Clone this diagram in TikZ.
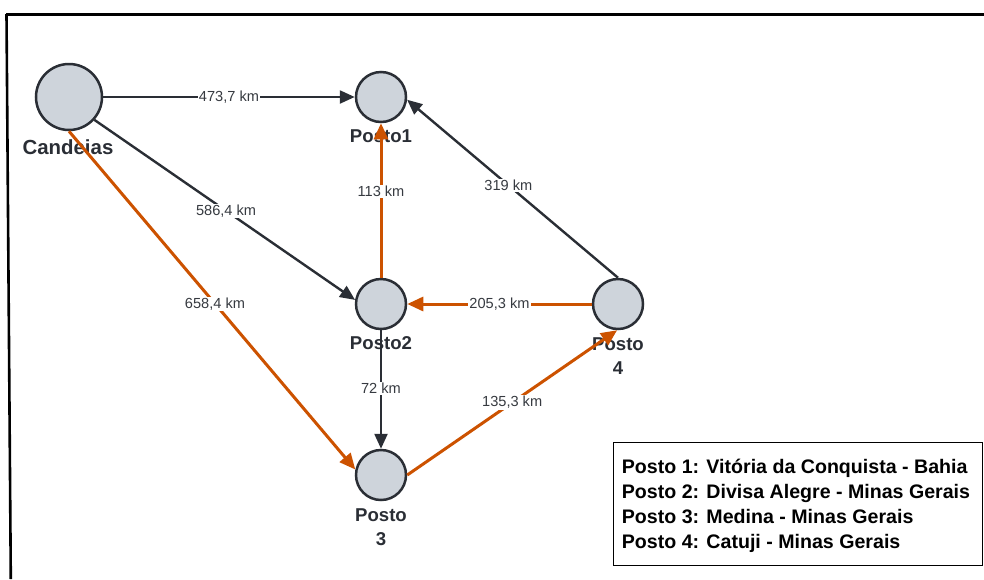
\documentclass[tikz,border=0pt]{standalone}
\usepackage{fontspec}
\setmainfont{Liberation Sans}
\usetikzlibrary{arrows.meta}
\definecolor{ink}{HTML}{2A2E35}
\definecolor{rust}{HTML}{CC5200}
\definecolor{stopfill}{HTML}{CED4DB}
\definecolor{lbl}{HTML}{363A40}

\begin{document}
\begin{tikzpicture}[x=1pt,y=-1pt,
  stopnode/.style={circle, draw=ink, line width=2.5pt, fill=stopfill, minimum size=#1, inner sep=0pt},
  road/.style={draw=ink, line width=2.4pt, -{Triangle[length=15pt,width=13pt]}},
  best/.style={draw=rust, line width=3pt, -{Triangle[length=16pt,width=14pt]}},
  dist/.style={fill=white, text=lbl, font=\fontsize{14.6}{16}\selectfont, inner sep=1pt, pos=#1},
  dist/.default=0.5,
  stopname/.style={text=ink, font=\bfseries\fontsize{18.6}{24}\selectfont, align=center, inner sep=0pt},
]
\useasboundingbox (0,0) rectangle (984,579);

% outer frame (top and left sides)
\draw[line width=3pt] (6,14.5) -- (984,14.5);
\draw[line width=2.6pt] (6.5,14) -- (10.8,579);

% stops
\node[stopnode=66] (cand) at (69,97) {};
\node[stopnode=50] (p1) at (381,97) {};
\node[stopnode=50] (p2) at (381,304) {};
\node[stopnode=50] (p3) at (381,475) {};
\node[stopnode=50] (p4) at (618,304) {};

% stop names
\node[stopname, font=\bfseries\fontsize{20.4}{24}\selectfont] (candname) at (68,147) {Candeias};
\node[stopname] (p1name) at (381,136) {Posto1};
\node[stopname] (p2name) at (381,343) {Posto2};
\node[stopname] (p3name) at (381,527) {Posto\\3};
\node[stopname] (p4name) at (618,356) {Posto\\4};

% roads
\draw[road] (cand.east) -- node[dist] {473,7 km} (p1.west);
\draw[road] (cand.-42) -- node[dist=0.505] {586,4 km} (p2.171);
\draw[best] (cand.-90) -- node[dist=0.51] {658,4 km} (p3.168);
\draw[best] (p2.north) -- node[dist=0.56] {113 km} (p1.south);
\draw[road] (p4.north) -- node[dist=0.52] {319 km} (p1.-6);
\draw[best] (p4.west) -- node[dist] {205,3 km} (p2.east);
\draw[road] (p2.south) -- node[dist=0.49] {72 km} (p3.north);
\draw[best] (p3.east) -- node[dist] {135,3 km} (p4.-92);

% legend
\node[draw=black, line width=1.3pt, minimum width=369, minimum height=123, anchor=north west, inner sep=0pt] (legendbox) at (612.7,441.7) {};
\node[anchor=base west, align=left, inner sep=0pt, font=\bfseries\fontsize{19.6}{25}\selectfont] (legendtext) at (621.7,548) {Posto 1: Vitória da Conquista - Bahia\\Posto 2: Divisa Alegre - Minas Gerais\\Posto 3: Medina - Minas Gerais\\Posto 4: Catuji - Minas Gerais};
\end{tikzpicture}
\end{document}
